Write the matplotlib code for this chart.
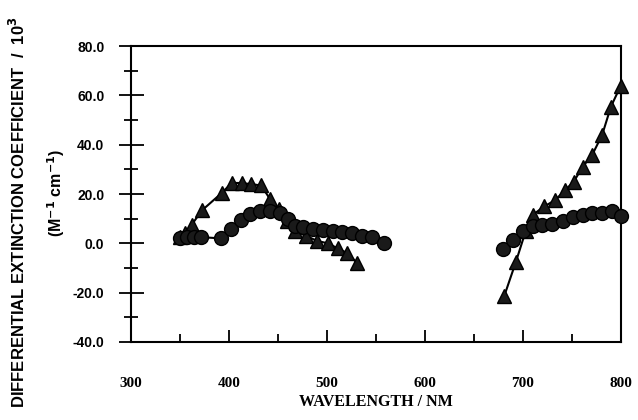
import matplotlib.pyplot as plt
import numpy as np
from matplotlib.ticker import MultipleLocator

# triangulos - faixa azul/violeta
tri_x1 = [350, 355, 362, 373, 393, 403, 413, 423, 433, 442, 451, 459, 468, 479, 490, 501, 511, 521, 531]
tri_y1 = [2.5, 4.0, 7.5, 13.5, 20.5, 24.5, 24.5, 24.0, 23.5, 18.0, 14.0, 9.0, 5.0, 3.0, 1.0, 0.0, -2.0, -4.0, -8.0]
# circulos - faixa azul/violeta
circ_x1 = [350, 357, 365, 372, 392, 402, 412, 422, 432, 442, 452, 460, 468, 476, 486, 496, 506, 516, 526, 536, 546, 558]
circ_y1 = [2.0, 2.5, 2.5, 2.5, 2.0, 6.0, 9.5, 12.0, 13.0, 13.0, 12.5, 10.0, 7.0, 6.5, 6.0, 5.5, 5.0, 4.5, 4.0, 3.0, 2.5, 0.0]

# faixa vermelha
tri_x2 = [681, 693, 703, 710, 722, 733, 743, 752, 761, 771, 781, 790, 800]
tri_y2 = [-21.5, -7.5, 5.0, 11.5, 15.0, 17.5, 21.5, 25.0, 31.0, 36.0, 44.0, 55.5, 64.0]
circ_x2 = [680, 690, 700, 710, 720, 730, 741, 751, 761, 771, 781, 791, 800]
circ_y2 = [-2.5, 1.5, 5.0, 7.0, 7.5, 8.0, 9.0, 10.5, 11.5, 12.5, 12.5, 13.0, 11.0]

fig = plt.figure(figsize=(6.38, 4.20), dpi=100)
ax = fig.add_axes([0.205, 0.186, 0.768, 0.704])

for xs, ys in [(tri_x1, tri_y1), (tri_x2, tri_y2)]:
    ax.plot(xs, ys, color='black', lw=1.5, marker='^', markersize=9.5,
            markerfacecolor='#1a1a1a', markeredgecolor='black', clip_on=False, zorder=3)
for xs, ys in [(circ_x1, circ_y1), (circ_x2, circ_y2)]:
    ax.plot(xs, ys, color='black', lw=1.5, marker='o', markersize=10,
            markerfacecolor='#1a1a1a', markeredgecolor='black', clip_on=False, zorder=4)

ax.set_xlim(300, 800)
ax.set_ylim(-40, 80)

for s in ax.spines.values():
    s.set_linewidth(1.5)

ax.xaxis.set_major_locator(MultipleLocator(100))
ax.xaxis.set_minor_locator(MultipleLocator(50))
ax.yaxis.set_major_locator(MultipleLocator(20))
ax.yaxis.set_minor_locator(MultipleLocator(10))

ax.tick_params(axis='x', which='major', direction='in', length=9, width=1.3, pad=25)
ax.tick_params(axis='x', which='minor', direction='in', length=6, width=1.3)
ax.tick_params(axis='y', which='major', direction='inout', length=18, width=1.3, pad=10)
ax.tick_params(axis='y', which='minor', direction='inout', length=10, width=1.3)

ax.set_yticks([-40, -20, 0, 20, 40, 60, 80])
ax.set_yticklabels(['-40.0', '-20.0', '0.0', '20.0', '40.0', '60.0', '80.0'])
for lab in ax.get_yticklabels():
    lab.set_fontfamily('Liberation Sans')
    lab.set_fontweight('bold')
    lab.set_fontsize(10)
for lab in ax.get_xticklabels():
    lab.set_fontfamily('Liberation Serif')
    lab.set_fontweight('bold')
    lab.set_fontsize(11)

ax.set_xlabel('WAVELENGTH / NM', fontfamily='Liberation Serif', fontweight='bold',
              fontsize=11.5, labelpad=3)

fig.text(0.028, 0.495, 'DIFFERENTIAL EXTINCTION COEFFICIENT  /  10$^\\mathbf{3}$',
         rotation=90, ha='center', va='center', fontfamily='Liberation Sans',
         fontweight='bold', fontsize=12)
fig.text(0.088, 0.54, '(M$^{\\mathbf{-1}}$ cm$^{\\mathbf{-1}}$)', rotation=90, ha='center',
         va='center', fontfamily='Liberation Sans', fontweight='bold', fontsize=11.5)

fig.savefig('out.png', dpi=100)
